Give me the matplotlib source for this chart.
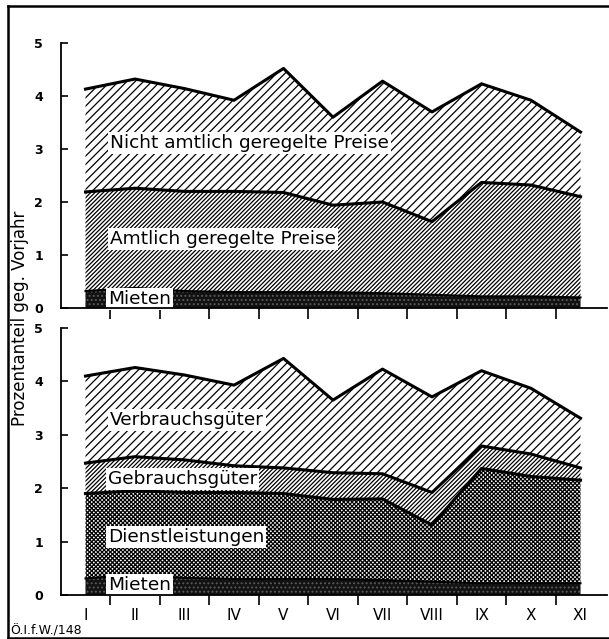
import numpy as np
import matplotlib.pyplot as plt
from matplotlib.lines import Line2D

# months (roman numerals) and stacked values, % share vs. previous year
months = ["I", "II", "III", "IV", "V", "VI", "VII", "VIII", "IX", "X", "XI"]

# upper panel: official vs. non-official prices (cumulative tops)
top_mieten = [0.32, 0.38, 0.32, 0.30, 0.30, 0.30, 0.28, 0.25, 0.22, 0.22, 0.20]
top_amtlich = [2.19, 2.26, 2.20, 2.20, 2.18, 1.94, 2.00, 1.63, 2.37, 2.32, 2.10]
top_total = [4.13, 4.32, 4.14, 3.92, 4.52, 3.60, 4.28, 3.70, 4.23, 3.92, 3.32]

# lower panel: goods / services breakdown (cumulative tops)
low_mieten = [0.31, 0.38, 0.32, 0.30, 0.30, 0.30, 0.28, 0.25, 0.22, 0.22, 0.22]
low_dienst = [1.90, 1.95, 1.92, 1.92, 1.90, 1.79, 1.80, 1.31, 2.37, 2.22, 2.15]
low_gebrauch = [2.47, 2.59, 2.53, 2.42, 2.38, 2.29, 2.27, 1.92, 2.79, 2.64, 2.38]
low_total = [4.10, 4.26, 4.12, 3.93, 4.43, 3.65, 4.23, 3.71, 4.20, 3.87, 3.31]

W, H = 609, 639
fig = plt.figure(figsize=(W / 100, H / 100), dpi=100)
plt.rcParams['hatch.linewidth'] = 0.9

x = np.arange(len(months))
zero = np.zeros(len(months))


def px_axes(left, right, top, bottom):
    # pixel box -> figure fraction
    return fig.add_axes([left / W, 1 - bottom / H, (right - left) / W, (bottom - top) / H])


def layer(ax, lo, hi, hatch, face='white', edge='black'):
    ax.fill_between(x, lo, hi, facecolor=face, hatch=hatch, edgecolor=edge, linewidth=0)
    ax.plot(x, hi, color='black', lw=2.2, solid_joinstyle='round')


def style(ax, ticklen):
    ax.set_xlim(-0.495, 10.535)
    ax.set_ylim(0, 5)
    for s in ['top', 'right']:
        ax.spines[s].set_visible(False)
    ax.spines['left'].set_linewidth(1.3)
    ax.spines['bottom'].set_linewidth(1.3)
    ax.set_yticks(range(6))
    ax.tick_params(axis='y', direction='in', length=5, width=1.2, pad=13, labelsize=9)
    for t in ax.get_yticklabels():
        t.set_fontweight('bold')
    ax.set_xticks(x[:-1] + 0.5)
    ax.set_xticklabels([])
    ax.tick_params(axis='x', direction='out', length=ticklen, width=1.2)


lbl = dict(fontsize=13.3, va='center', ha='left', zorder=2.2,
           bbox=dict(facecolor='white', edgecolor='none', pad=1.5))

# upper panel
ax1 = px_axes(61, 607, 43, 308)
layer(ax1, top_amtlich, top_total, '////')
layer(ax1, top_mieten, top_amtlich, '////////')
ax1.fill_between(x, zero, top_mieten, facecolor='#111111', hatch='....', edgecolor='#5a5a5a', linewidth=0)
ax1.plot(x, top_mieten, color='black', lw=1.5)
style(ax1, 8)
ax1.text(0.5, 3.11, "Nicht amtlich geregelte Preise", **lbl)
ax1.text(0.5, 1.30, "Amtlich geregelte Preise", **lbl)
ax1.text(0.45, 0.17, "Mieten", **lbl)

# lower panel
ax2 = px_axes(61, 607, 328, 595)
layer(ax2, low_gebrauch, low_total, '////')
layer(ax2, low_dienst, low_gebrauch, '////////')
layer(ax2, low_mieten, low_dienst, 'xxxxxxxx')
ax2.fill_between(x, zero, low_mieten, facecolor='#111111', hatch='....', edgecolor='#5a5a5a', linewidth=0)
ax2.plot(x, low_mieten, color='black', lw=1.5)
style(ax2, 7)
ax2.set_xticks(x, minor=True)
ax2.set_xticklabels(months, minor=True)
ax2.tick_params(axis='x', which='minor', length=0, pad=9, labelsize=11)
ax2.text(0.5, 3.28, "Verbrauchsgüter", **lbl)
ax2.text(0.45, 2.17, "Gebrauchsgüter", **lbl)
ax2.text(0.45, 1.09, "Dienstleistungen", **lbl)
ax2.text(0.45, 0.18, "Mieten", **lbl)

fig.text(20 / W, 1 - 318 / H, "Prozentanteil geg. Vorjahr", rotation=90,
         ha='center', va='center', fontsize=12)
fig.text(10 / W, 1 - 631 / H, "Ö.I.f.W./148", ha='left', va='center', fontsize=9)

# outer frame
for xs, ys in [([8, 8], [6, 638]), ([8, 609], [6, 6]), ([8, 609], [638, 638])]:
    fig.add_artist(Line2D([v / W for v in xs], [1 - v / H for v in ys],
                          color='black', lw=1.8, transform=fig.transFigure))

fig.savefig("out.png", dpi=100)
